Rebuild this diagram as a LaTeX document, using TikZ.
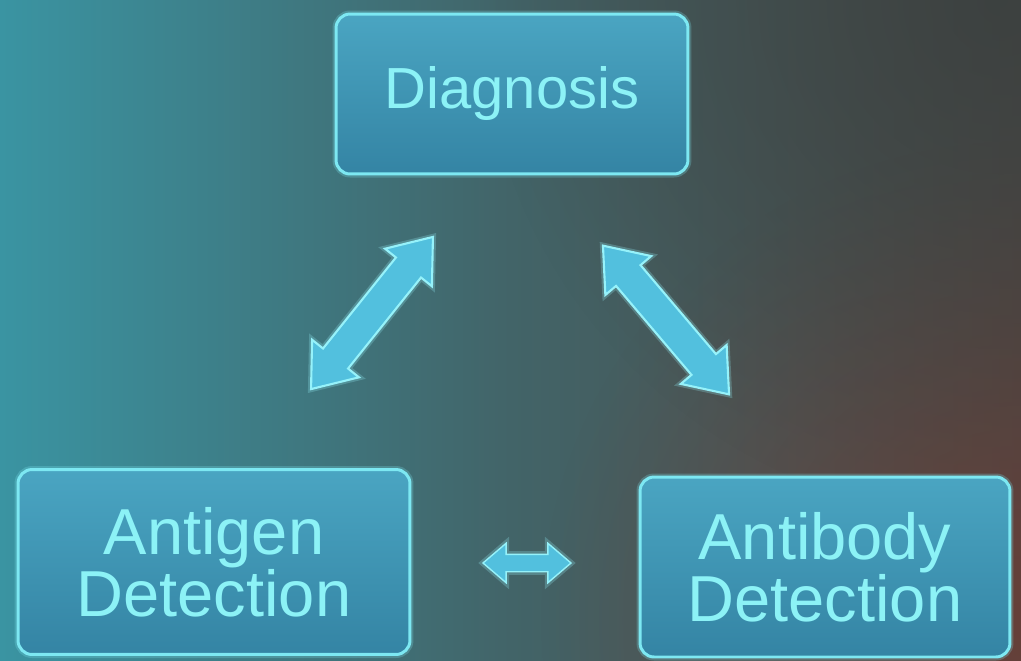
\documentclass[tikz,border=0pt]{standalone}
\usepackage{fontspec}
\setmainfont{Liberation Sans}
\usetikzlibrary{shapes.arrows,fadings}
\definecolor{bgteal}{RGB}{58,148,162}
\definecolor{bgmid}{RGB}{66,100,104}
\definecolor{bgright}{RGB}{78,74,70}
\definecolor{bgred}{RGB}{115,58,50}
\definecolor{bgdark}{RGB}{55,62,62}
\definecolor{boxtop}{RGB}{74,165,194}
\definecolor{boxbot}{RGB}{52,132,164}
\definecolor{boxedge}{RGB}{125,232,242}
\definecolor{txt}{RGB}{140,242,246}
\definecolor{arrfill}{RGB}{82,192,222}
\definecolor{arredge}{RGB}{150,242,250}
\tikzfading[name=radfade, inner color=transparent!35, outer color=transparent!100]
\tikzfading[name=radfadeb, inner color=transparent!25, outer color=transparent!100]
\tikzset{
  box/.style={draw=boxedge, line width=1.7pt, rounded corners=8pt,
    top color=boxtop, bottom color=boxbot, text=txt, align=center,
    preaction={draw=boxedge, line width=4pt, opacity=0.25}},
  fatarrow/.style={shape=double arrow, draw=arredge, line width=1.2pt, fill=arrfill,
    inner xsep=0pt, preaction={draw=arredge, line width=3.5pt, opacity=0.25}},
  bigarrow/.style={fatarrow, minimum height=3.9cm, inner ysep=0.3cm,
    double arrow head extend=0.28cm, double arrow tip angle=75},
  smallarrow/.style={fatarrow, minimum height=1.76cm, inner ysep=0.16cm,
    double arrow head extend=0.22cm, double arrow tip angle=81, line width=0.8pt}
}
\begin{document}
\begin{tikzpicture}[x=0.02cm,y=-0.02cm]
\useasboundingbox (0,0) rectangle (1021,660);
% background
\shade[left color=bgteal, right color=bgright, middle color=bgmid] (0,0) rectangle (1021,660);
\begin{scope}
\clip (0,0) rectangle (1021,660);
\fill[bgred, path fading=radfade] (1021,620) circle (480);
\fill[bgdark, path fading=radfadeb] (1000,0) circle (520);
\end{scope}
% boxes
\node[box, minimum width=7.04cm, minimum height=3.2cm, font=\fontsize{33}{33}\selectfont]
  (diag) at (512,94) {Diagnosis};
\node[box, minimum width=7.84cm, minimum height=3.7cm, font=\fontsize{37}{33}\selectfont]
  (antigen) at (214,562) {Antigen\\Detection};
\node[box, minimum width=7.4cm, minimum height=3.6cm, font=\fontsize{37}{33}\selectfont]
  (antibody) at (825,567) {Antibody\\Detection};
% arrows
\node[bigarrow, rotate=51.3] (a1) at (372,313) {};
\node[bigarrow, rotate=-49.7] (a2) at (666,320) {};
\node[smallarrow] (a3) at (527,563) {};
\end{tikzpicture}
\end{document}
